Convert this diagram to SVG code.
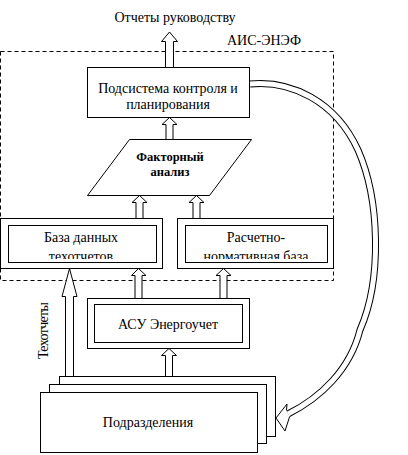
<svg xmlns="http://www.w3.org/2000/svg" width="408" height="455" viewBox="0 0 408 455">
<style>
text{font-family:"Liberation Serif","Times New Roman",serif;font-size:14px;fill:#000}
.b{fill:#fff;stroke:#000;stroke-width:1}
.arr{fill:#fff;stroke:#000;stroke-width:1}
.c{text-anchor:middle}
.bold{font-weight:bold;font-size:12.5px}
</style>
<defs>
<clipPath id="cl1"><rect x="9" y="226" width="147" height="33"/></clipPath>
<clipPath id="cl2"><rect x="186" y="226" width="141" height="33"/></clipPath>
</defs>
<rect id="ais" x="0.5" y="51.5" width="333" height="229" fill="none" stroke="#000" stroke-dasharray="4,3"/>
<text x="227" y="45">АИС-ЭНЭФ</text>
<text class="c" x="175" y="22">Отчеты руководству</text>
<g id="connectors">
<path class="arr" d="M165.5,67 V41.5 H161.5 L169.5,32 L177.5,41.5 H173.5 V67"/>
<path class="arr" d="M166,139 V124.5 H162 L169.5,117.5 L177,124.5 H173 V139"/>
<path class="arr" d="M136,218 V202.5 H132 L139.5,195.5 L147,202.5 H143 V218"/>
<path class="arr" d="M193,218 V202.5 H189 L196.5,195.5 L204,202.5 H200 V218"/>
<path class="arr" d="M135,298 V275.5 H131.5 L138.5,268.5 L146,275.5 H142 V298"/>
<path class="arr" d="M220,298 V275.5 H216 L223.5,268.5 L231,275.5 H227 V298"/>
<path class="arr" d="M165.5,376 V355.5 H161.5 L169,348.5 L176.5,355.5 H172.5 V376"/>
<path class="arr" d="M65.5,376 V296.5 H62 L69.5,268.5 L77,296.5 H73.5 V376"/>
<path d="M250,84 C290,80 335,100 358,150 C380,200 382,280 360,330 C350,370 320,398 288,414" fill="none" stroke="#000" stroke-width="7"/>
<path d="M249,84 C290,80 335,100 358,150 C380,200 382,280 360,330 C350,370 320,398 288,414" fill="none" stroke="#fff" stroke-width="5"/>
<path class="arr" d="M286.5,410.5 L287,404 L276,418 L285,431 L289.5,417"/>
</g>
<g id="n-podsys">
<rect class="b" x="87.5" y="67.5" width="162" height="50"/>
<text class="c" x="168" y="93">Подсистема контроля и</text>
<text class="c" x="168" y="109">планирования</text>
</g>
<g id="n-factor">
<polygon class="b" points="129.5,139.5 251.5,139.5 209.5,195.5 87.5,195.5"/>
<text class="c bold" x="170" y="161">Факторный</text>
<text class="c bold" x="170" y="175.5">анализ</text>
</g>
<g id="n-db">
<rect class="b" x="0.5" y="218.5" width="162" height="50"/>
<rect class="b" x="8.5" y="225.5" width="148" height="37"/>
<text class="c" x="81" y="242">База данных</text>
<text class="c" x="81" y="261" clip-path="url(#cl1)">техотчетов</text>
</g>
<g id="n-rn">
<rect class="b" x="177.5" y="218.5" width="156" height="50"/>
<rect class="b" x="185.5" y="225.5" width="142" height="37"/>
<text class="c" x="256" y="242">Расчетно-</text>
<text class="c" x="256" y="261" clip-path="url(#cl2)">нормативная база</text>
</g>
<g id="n-asu">
<rect class="b" x="87.5" y="298.5" width="162" height="50"/>
<rect class="b" x="94.5" y="304.5" width="148" height="38"/>
<text class="c" x="168" y="329">АСУ Энергоучет</text>
</g>
<g id="n-podr">
<rect class="b" x="59.5" y="376.5" width="216" height="60"/>
<rect class="b" x="49.5" y="384.5" width="217" height="59"/>
<rect class="b" x="40.5" y="392.5" width="217" height="60"/>
<text class="c" x="148" y="427">Подразделения</text>
</g>
<text class="c" transform="translate(48,330.5) rotate(-90)" textLength="57" lengthAdjust="spacing">Техотчеты</text>
</svg>
